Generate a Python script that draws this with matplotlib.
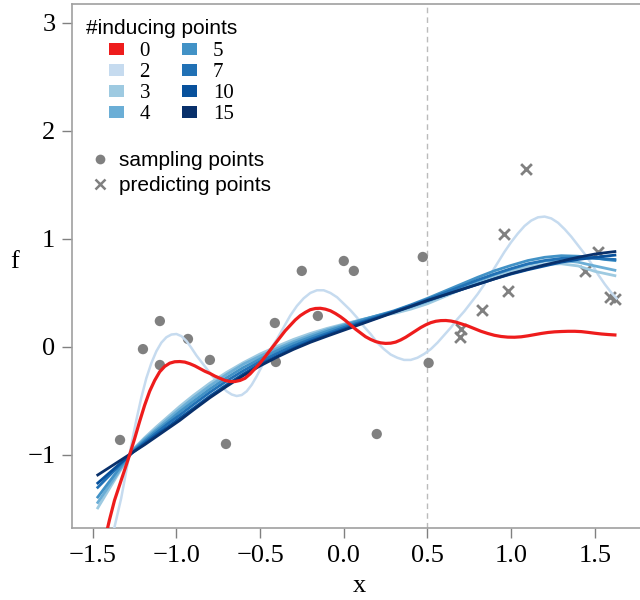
import numpy as np
import matplotlib.pyplot as plt
from matplotlib.patches import Patch
from matplotlib.lines import Line2D

# observed data
xs_sample = [-1.337, -1.20, -1.099, -1.099, -0.931, -0.80, -0.704, -0.412, -0.406,
             -0.251, -0.155, 0.0, 0.06, 0.197, 0.472, 0.507]
ys_sample = [-0.861, -0.02, 0.24, -0.167, 0.074, -0.12, -0.898, 0.222, -0.139,
             0.704, 0.287, 0.796, 0.704, -0.806, 0.833, -0.148]
xs_pred = [1.09, 0.959, 1.522, 1.443, 0.981, 0.824, 0.703, 0.693, 1.592, 1.622]
ys_pred = [1.645, 1.046, 0.882, 0.706, 0.521, 0.34, 0.164, 0.095, 0.46, 0.444]

# predictive mean, 0 inducing points
x_m0 = [-1.43, -1.40, -1.37, -1.34, -1.31, -1.28, -1.25, -1.22, -1.19, -1.16, -1.13,
        -1.10, -1.07, -1.04, -1.01, -0.98, -0.95, -0.92, -0.89, -0.86, -0.83, -0.80,
        -0.77, -0.74, -0.71, -0.68, -0.65, -0.62, -0.59, -0.56, -0.53, -0.50, -0.47,
        -0.44, -0.41, -0.38, -0.35, -0.32, -0.29, -0.26, -0.23, -0.20, -0.17, -0.14,
        -0.11, -0.08, -0.05, -0.02, 0.01, 0.04, 0.07, 0.10, 0.13, 0.16, 0.19, 0.22,
        0.25, 0.28, 0.31, 0.34, 0.37, 0.40, 0.43, 0.46, 0.49, 0.52, 0.55, 0.58, 0.61,
        0.64, 0.67, 0.70, 0.74, 0.78, 0.82, 0.86, 0.90, 0.94, 0.98, 1.02, 1.06, 1.10,
        1.14, 1.18, 1.22, 1.26, 1.30, 1.34, 1.38, 1.42, 1.46, 1.50, 1.54, 1.58, 1.62]
y_m0 = [-1.80, -1.60, -1.42, -1.28, -1.14, -1.00, -0.85, -0.69, -0.54, -0.41, -0.31,
        -0.23, -0.18, -0.15, -0.137, -0.135, -0.14, -0.155, -0.175, -0.20, -0.225,
        -0.245, -0.27, -0.29, -0.31, -0.32, -0.32, -0.31, -0.29, -0.25, -0.20, -0.15,
        -0.09, -0.03, 0.03, 0.09, 0.15, 0.20, 0.25, 0.29, 0.32, 0.345, 0.356, 0.358,
        0.35, 0.335, 0.31, 0.28, 0.245, 0.205, 0.165, 0.13, 0.095, 0.07, 0.05, 0.038,
        0.033, 0.035, 0.045, 0.065, 0.09, 0.12, 0.15, 0.18, 0.205, 0.225, 0.238, 0.244,
        0.245, 0.24, 0.23, 0.215, 0.195, 0.17, 0.145, 0.125, 0.108, 0.097, 0.091, 0.09,
        0.094, 0.103, 0.114, 0.125, 0.134, 0.14, 0.143, 0.145, 0.145, 0.142, 0.135,
        0.127, 0.12, 0.115, 0.111]

# 2 inducing points
x_m2 = [-1.39, -1.36, -1.33, -1.30, -1.27, -1.24, -1.21, -1.18, -1.15, -1.12, -1.09,
        -1.06, -1.03, -1.00, -0.97, -0.94, -0.91, -0.88, -0.85, -0.82, -0.78, -0.74,
        -0.70, -0.67, -0.64, -0.61, -0.58, -0.55, -0.52, -0.49, -0.46, -0.43, -0.40,
        -0.36, -0.32, -0.28, -0.24, -0.20, -0.16, -0.12, -0.08, -0.04, 0.00, 0.04, 0.08,
        0.12, 0.16, 0.20, 0.24, 0.28, 0.32, 0.36, 0.40, 0.44, 0.48, 0.52, 0.56, 0.60,
        0.64, 0.68, 0.72, 0.76, 0.80, 0.84, 0.88, 0.92, 0.96, 1.00, 1.04, 1.08, 1.12,
        1.16, 1.20, 1.24, 1.28, 1.32, 1.36, 1.40, 1.44, 1.48, 1.52, 1.56, 1.60, 1.63]
y_m2 = [-1.80, -1.60, -1.40, -1.15, -0.91, -0.68, -0.47, -0.29, -0.15, -0.04, 0.04,
        0.09, 0.115, 0.12, 0.10, 0.055, -0.01, -0.08, -0.14, -0.20, -0.28, -0.35,
        -0.41, -0.44, -0.454, -0.445, -0.41, -0.35, -0.27, -0.18, -0.09, 0.00, 0.07,
        0.18, 0.29, 0.38, 0.45, 0.50, 0.525, 0.525, 0.50, 0.46, 0.40, 0.34, 0.27, 0.19,
        0.12, 0.04, -0.02, -0.07, -0.10, -0.12, -0.12, -0.10, -0.065, -0.02, 0.04, 0.11,
        0.18, 0.26, 0.33, 0.41, 0.49, 0.58, 0.68, 0.78, 0.88, 0.97, 1.05, 1.12, 1.17,
        1.20, 1.207, 1.19, 1.15, 1.09, 1.02, 0.94, 0.86, 0.77, 0.67, 0.58, 0.50, 0.45]

# 3 .. 15 inducing points share one grid
x_grid = [-1.47, -1.40, -1.33, -1.26, -1.19, -1.12, -1.05, -0.98, -0.90, -0.80, -0.70,
          -0.60, -0.50, -0.40, -0.30, -0.20, -0.10, 0.00, 0.10, 0.20, 0.30, 0.40, 0.50,
          0.60, 0.70, 0.80, 0.90, 1.00, 1.10, 1.20, 1.30, 1.40, 1.50, 1.56, 1.62]
y_m3 = [-1.49, -1.31, -1.13, -0.95, -0.84, -0.74, -0.645, -0.55, -0.45, -0.335, -0.235,
        -0.145, -0.065, 0.005, 0.07, 0.125, 0.172, 0.212, 0.25, 0.285, 0.31, 0.35, 0.40,
        0.465, 0.53, 0.595, 0.65, 0.70, 0.74, 0.765, 0.77, 0.75, 0.70, 0.68, 0.66]
y_m4 = [-1.44, -1.28, -1.12, -0.955, -0.85, -0.76, -0.665, -0.575, -0.475, -0.36, -0.255,
        -0.16, -0.085, -0.015, 0.05, 0.108, 0.16, 0.205, 0.25, 0.29, 0.325, 0.37, 0.42,
        0.48, 0.545, 0.61, 0.67, 0.72, 0.765, 0.795, 0.80, 0.785, 0.75, 0.73, 0.71]
y_m5 = [-1.39, -1.245, -1.10, -0.96, -0.865, -0.775, -0.69, -0.60, -0.505, -0.39, -0.285,
        -0.19, -0.11, -0.035, 0.032, 0.09, 0.145, 0.195, 0.245, 0.29, 0.335, 0.39, 0.45,
        0.515, 0.58, 0.645, 0.705, 0.755, 0.80, 0.83, 0.845, 0.84, 0.825, 0.81, 0.80]
y_m7 = [-1.30, -1.19, -1.08, -0.97, -0.88, -0.795, -0.71, -0.63, -0.535, -0.42, -0.315,
        -0.22, -0.135, -0.06, 0.01, 0.07, 0.125, 0.18, 0.23, 0.28, 0.33, 0.385, 0.44,
        0.50, 0.56, 0.62, 0.675, 0.725, 0.77, 0.80, 0.82, 0.825, 0.82, 0.815, 0.81]
y_m10 = [-1.26, -1.165, -1.07, -0.975, -0.895, -0.815, -0.74, -0.66, -0.57, -0.455, -0.35,
         -0.25, -0.16, -0.085, -0.012, 0.053, 0.11, 0.165, 0.22, 0.27, 0.325, 0.375, 0.43,
         0.48, 0.53, 0.58, 0.63, 0.675, 0.715, 0.75, 0.785, 0.81, 0.83, 0.84, 0.85]
y_m15 = [-1.185, -1.115, -1.045, -0.975, -0.905, -0.83, -0.755, -0.68, -0.585, -0.47,
         -0.365, -0.265, -0.175, -0.095, -0.022, 0.043, 0.10, 0.155, 0.21, 0.265, 0.32,
         0.375, 0.43, 0.48, 0.53, 0.58, 0.63, 0.68, 0.72, 0.76, 0.795, 0.83, 0.86, 0.872,
         0.883]

n_inducing = ['0', '2', '3', '4', '5', '7', '10', '15']
colors = ['#ee1c1c', '#c6dbef', '#9ecae1', '#6baed6', '#4292c6', '#2171b5', '#08519c', '#08306b']

serif = 'Liberation Serif'
sans = 'Liberation Sans'

fig = plt.figure(figsize=(6.4, 6.0), dpi=100)
ax = fig.add_axes([72/640, 72/600, 1 - 72/640, 524/600])

ax.axvline(0.5, color='#bbbbbb', ls=(0, (4, 3)), lw=1.0, zorder=1)

ax.scatter(xs_sample, ys_sample, s=55, color='#808080', edgecolor='none', zorder=2)
ax.scatter(xs_pred, ys_pred, s=60, marker='x', color='#808080', linewidths=2, zorder=2)

ax.plot(x_m2, y_m2, color=colors[1], lw=1.8, zorder=3)
blues = [y_m3, y_m4, y_m5, y_m7, y_m10, y_m15]
for ys, c in zip(blues, colors[2:]):
    ax.plot(x_grid, ys, color=c, lw=2.0, zorder=3)
ax.plot(x_m0, y_m0, color=colors[0], lw=2.3, zorder=4)

ax.set_xlim(-1.624, 1.77)
ax.set_ylim(-1.676, 3.175)
ax.set_xticks([-1.5, -1.0, -0.5, 0.0, 0.5, 1.0, 1.5])
ax.set_xticklabels(['\u22121.5', '\u22121.0', '\u22120.5', '0.0', '0.5', '1.0', '1.5'])
ax.set_yticks([-1, 0, 1, 2, 3])
ax.set_yticklabels(['\u22121', '0', '1', '2', '3'])
for lab in ax.get_xticklabels() + ax.get_yticklabels():
    lab.set_fontfamily(serif)
    lab.set_fontsize(19)
ax.tick_params(direction='out', length=7, width=1, color='#808080', pad=5)

ax.spines['right'].set_visible(False)
for s in ['left', 'top', 'bottom']:
    ax.spines[s].set_color('#a0a0a0')
    ax.spines[s].set_linewidth(1.2)

fig.text(15/640, 1 - 262/600, 'f', family=serif, fontsize=19, ha='center', va='center')
fig.text(359/640, 1 - 586/600, 'x', family=serif, fontsize=19, ha='center', va='center')

# legends
fig.text(86/640, 1 - 28/600, '#inducing points', family=sans, fontsize=15, va='center')
handles = [Patch(facecolor=c, edgecolor='none') for c in colors]
leg1 = fig.legend(handles, n_inducing, ncol=2, loc='upper left',
                  bbox_to_anchor=(109/640, 1 - 42/600), frameon=False,
                  prop={'family': serif, 'size': 15}, handlelength=0.72,
                  handleheight=0.5, handletextpad=0.75, columnspacing=1.55,
                  labelspacing=0.1, borderpad=0, borderaxespad=0)

marks = [Line2D([], [], ls='', marker='o', ms=7, color='#808080', mec='none'),
         Line2D([], [], ls='', marker='x', ms=7, mew=1.8, color='#808080')]
leg2 = ax.legend(marks, ['sampling points', 'predicting points'], loc='upper left',
                 bbox_to_anchor=(94/640, 1 - 151/600), bbox_transform=fig.transFigure,
                 frameon=False, prop={'family': sans, 'size': 15}, handlelength=0.6,
                 handletextpad=0.6, labelspacing=0.28, borderpad=0, borderaxespad=0)

fig.savefig('out.png', dpi=100)
